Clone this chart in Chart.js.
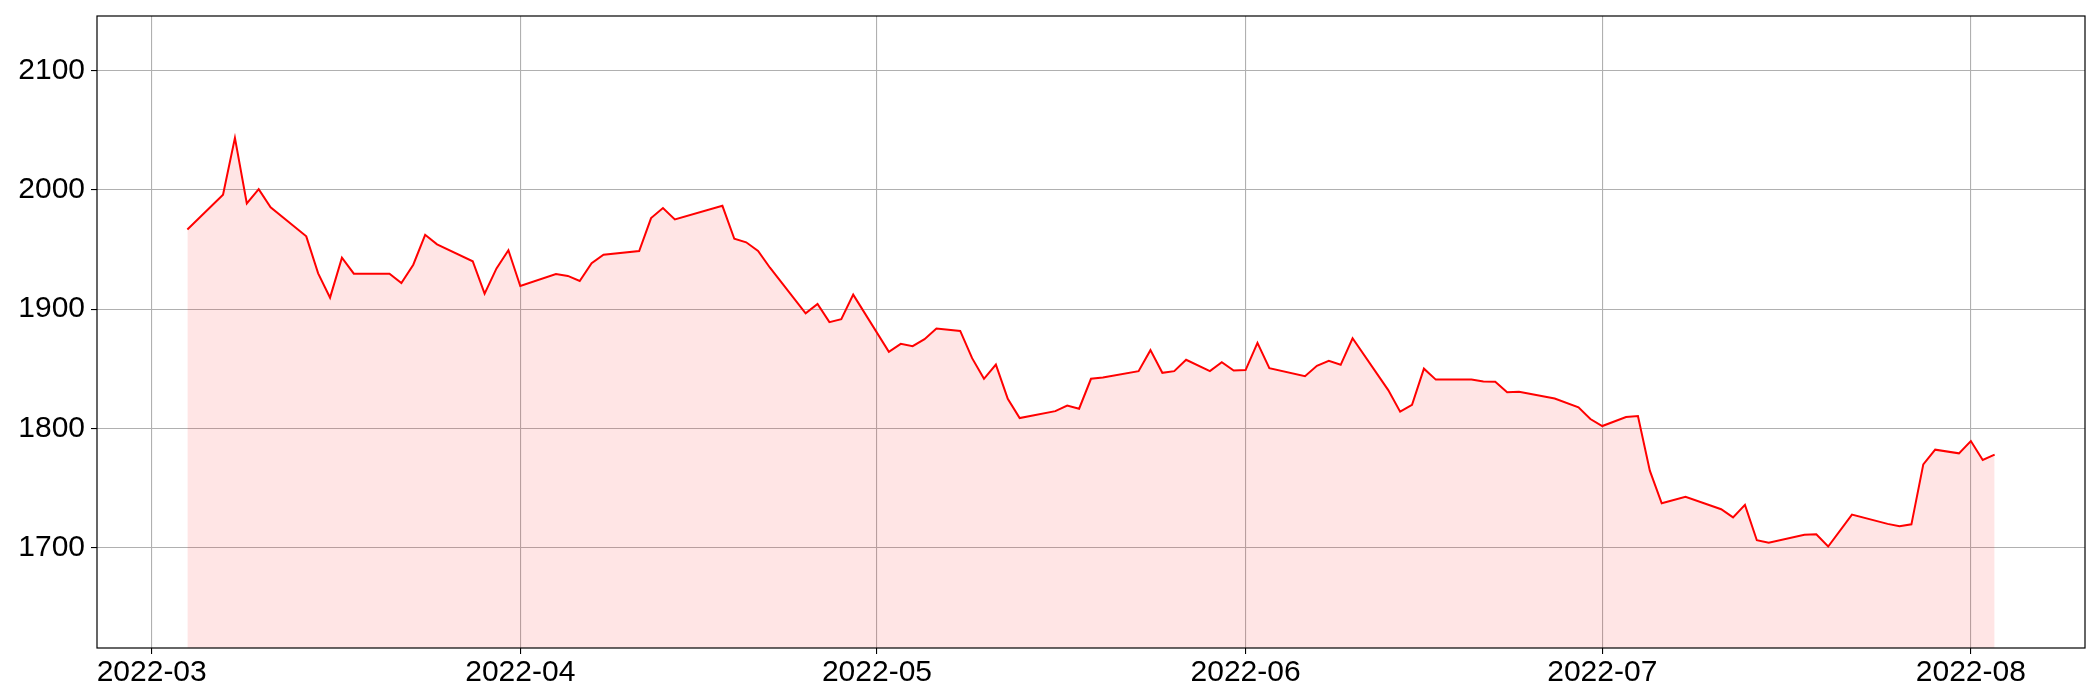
<!DOCTYPE html>
<html lang="en">
<head>
<meta charset="UTF-8">
<title>Price chart</title>
<script src="https://cdn.jsdelivr.net/npm/chart.js@4"></script>
<style>
  html, body { margin: 0; padding: 0; background: #fff; }
  canvas { display: block; }
</style>
</head>
<body>
<canvas id="grafico" width="2100" height="700"></canvas>
<script>
// daily values
const dates = [
  '2022-03-04','2022-03-07','2022-03-08','2022-03-09','2022-03-10','2022-03-11',
  '2022-03-14','2022-03-15','2022-03-16','2022-03-17','2022-03-18',
  '2022-03-21','2022-03-22','2022-03-23','2022-03-24','2022-03-25',
  '2022-03-28','2022-03-29','2022-03-30','2022-03-31','2022-04-01',
  '2022-04-04','2022-04-05','2022-04-06','2022-04-07','2022-04-08',
  '2022-04-11','2022-04-12','2022-04-13','2022-04-14',
  '2022-04-18','2022-04-19','2022-04-20','2022-04-21','2022-04-22',
  '2022-04-25','2022-04-26','2022-04-27','2022-04-28','2022-04-29',
  '2022-05-02','2022-05-03','2022-05-04','2022-05-05','2022-05-06','2022-05-08',
  '2022-05-09','2022-05-10','2022-05-11','2022-05-12','2022-05-13',
  '2022-05-16','2022-05-17','2022-05-18','2022-05-19','2022-05-20',
  '2022-05-23','2022-05-24','2022-05-25','2022-05-26','2022-05-27','2022-05-29',
  '2022-05-30','2022-05-31','2022-06-01','2022-06-02','2022-06-03',
  '2022-06-06','2022-06-07','2022-06-08','2022-06-09','2022-06-10',
  '2022-06-13','2022-06-14','2022-06-15','2022-06-16','2022-06-17',
  '2022-06-20','2022-06-21','2022-06-22','2022-06-23','2022-06-24',
  '2022-06-27','2022-06-29','2022-06-30','2022-07-01','2022-07-03',
  '2022-07-04','2022-07-05','2022-07-06','2022-07-08',
  '2022-07-11','2022-07-12','2022-07-13','2022-07-14','2022-07-15',
  '2022-07-18','2022-07-19','2022-07-20','2022-07-22',
  '2022-07-25','2022-07-26','2022-07-27','2022-07-28','2022-07-29','2022-07-31',
  '2022-08-01','2022-08-02','2022-08-03'
];
const prices = [
  1966.9, 1995.9, 2043.6, 1988.7, 2000.7, 1985.4,
  1961.1, 1930.1, 1909.7, 1943.2, 1929.8,
  1929.8, 1922.0, 1937.3, 1962.4, 1954.4,
  1940.2, 1913.1, 1934.2, 1949.4, 1919.5,
  1929.5, 1927.9, 1923.7, 1938.5, 1945.7,
  1948.8, 1976.4, 1984.8, 1975.3,
  1986.7, 1959.1, 1956.1, 1948.8, 1934.8,
  1896.5, 1904.5, 1889.2, 1891.6, 1912.2,
  1864.3, 1871.0, 1869.0, 1874.9, 1883.8, 1881.8,
  1859.0, 1841.7, 1853.6, 1824.9, 1808.8,
  1814.6, 1819.3, 1816.6, 1841.7, 1842.8,
  1848.1, 1865.7, 1846.7, 1848.1, 1857.6, 1848.1,
  1855.6, 1848.6, 1849.0, 1871.8, 1850.6,
  1843.9, 1852.6, 1856.7, 1853.4, 1875.7,
  1832.2, 1814.1, 1819.9, 1850.2, 1841.0,
  1841.1, 1839.4, 1839.2, 1830.4, 1830.9,
  1825.2, 1817.8, 1808.0, 1802.1, 1809.6,
  1810.5, 1764.7, 1737.3, 1742.7,
  1732.4, 1725.5, 1736.0, 1706.4, 1704.2,
  1710.9, 1711.4, 1701.1, 1727.9,
  1720.1, 1718.1, 1719.7, 1770.0, 1782.3, 1779.2,
  1789.5, 1773.6, 1778.1
];
const yTicks = [1700, 1800, 1900, 2000, 2100];
const xTickLabels = ['2022-03', '2022-04', '2022-05', '2022-06', '2022-07', '2022-08'];

function toTime(s) {
  const p = s.split('-').map(Number);
  return Date.UTC(p[0], p[1] - 1, p[2] || 1);
}

const pontos = dates.map((d, i) => ({ x: toTime(d), y: prices[i] }));

// axis limits like the original: x with 5% margins, y from min*0.95 to max*1.05
const t0 = pontos[0].x, t1 = pontos[pontos.length - 1].x;
const margem = (t1 - t0) * 0.05;
const yMin = Math.min(...prices) * 0.95;
const yMax = Math.max(...prices) * 1.05;

// black frame on all four sides
const moldura = {
  id: 'moldura',
  afterDatasetsDraw(chart) {
    const a = chart.chartArea, ctx = chart.ctx;
    ctx.save();
    ctx.strokeStyle = '#000';
    ctx.lineWidth = 1.2;
    ctx.strokeRect(a.left, a.top, a.right - a.left, a.bottom - a.top);
    ctx.restore();
  }
};

Chart.defaults.font.family = "'Liberation Sans', Arial, sans-serif";
Chart.defaults.font.size = 30;
Chart.defaults.color = '#000';

new Chart(document.getElementById('grafico').getContext('2d'), {
  type: 'line',
  data: {
    datasets: [{
      data: pontos,
      borderColor: '#ff0000',
      borderWidth: 2,
      backgroundColor: 'rgba(255, 0, 0, 0.1)',
      fill: 'start',
      pointRadius: 0,
      tension: 0
    }]
  },
  options: {
    responsive: false,
    animation: false,
    devicePixelRatio: 1,
    layout: { padding: { top: 16, right: 15, left: 0, bottom: 0 } },
    plugins: {
      legend: { display: false },
      tooltip: { enabled: false }
    },
    scales: {
      x: {
        type: 'linear',
        min: t0 - margem,
        max: t1 + margem,
        afterBuildTicks: s => { s.ticks = xTickLabels.map(l => ({ value: toTime(l) })); },
        afterFit: s => { s.height = 52; s.paddingLeft = 0; s.paddingRight = 0; },
        ticks: {
          maxRotation: 0,
          autoSkip: false,
          padding: 1,
          callback: v => new Date(v).toISOString().slice(0, 7)
        },
        grid: { color: '#b0b0b0', lineWidth: 1.1, tickLength: 6, tickColor: '#000' },
        border: { display: false }
      },
      y: {
        min: yMin,
        max: yMax,
        afterBuildTicks: s => { s.ticks = yTicks.map(v => ({ value: v })); },
        afterFit: s => { s.width = 97; s.paddingTop = 0; s.paddingBottom = 0; },
        ticks: { padding: 6, callback: v => String(v) },
        grid: { color: '#b0b0b0', lineWidth: 1.1, tickLength: 6, tickColor: '#000' },
        border: { display: false }
      }
    }
  },
  plugins: [moldura]
});
</script>
</body>
</html>
